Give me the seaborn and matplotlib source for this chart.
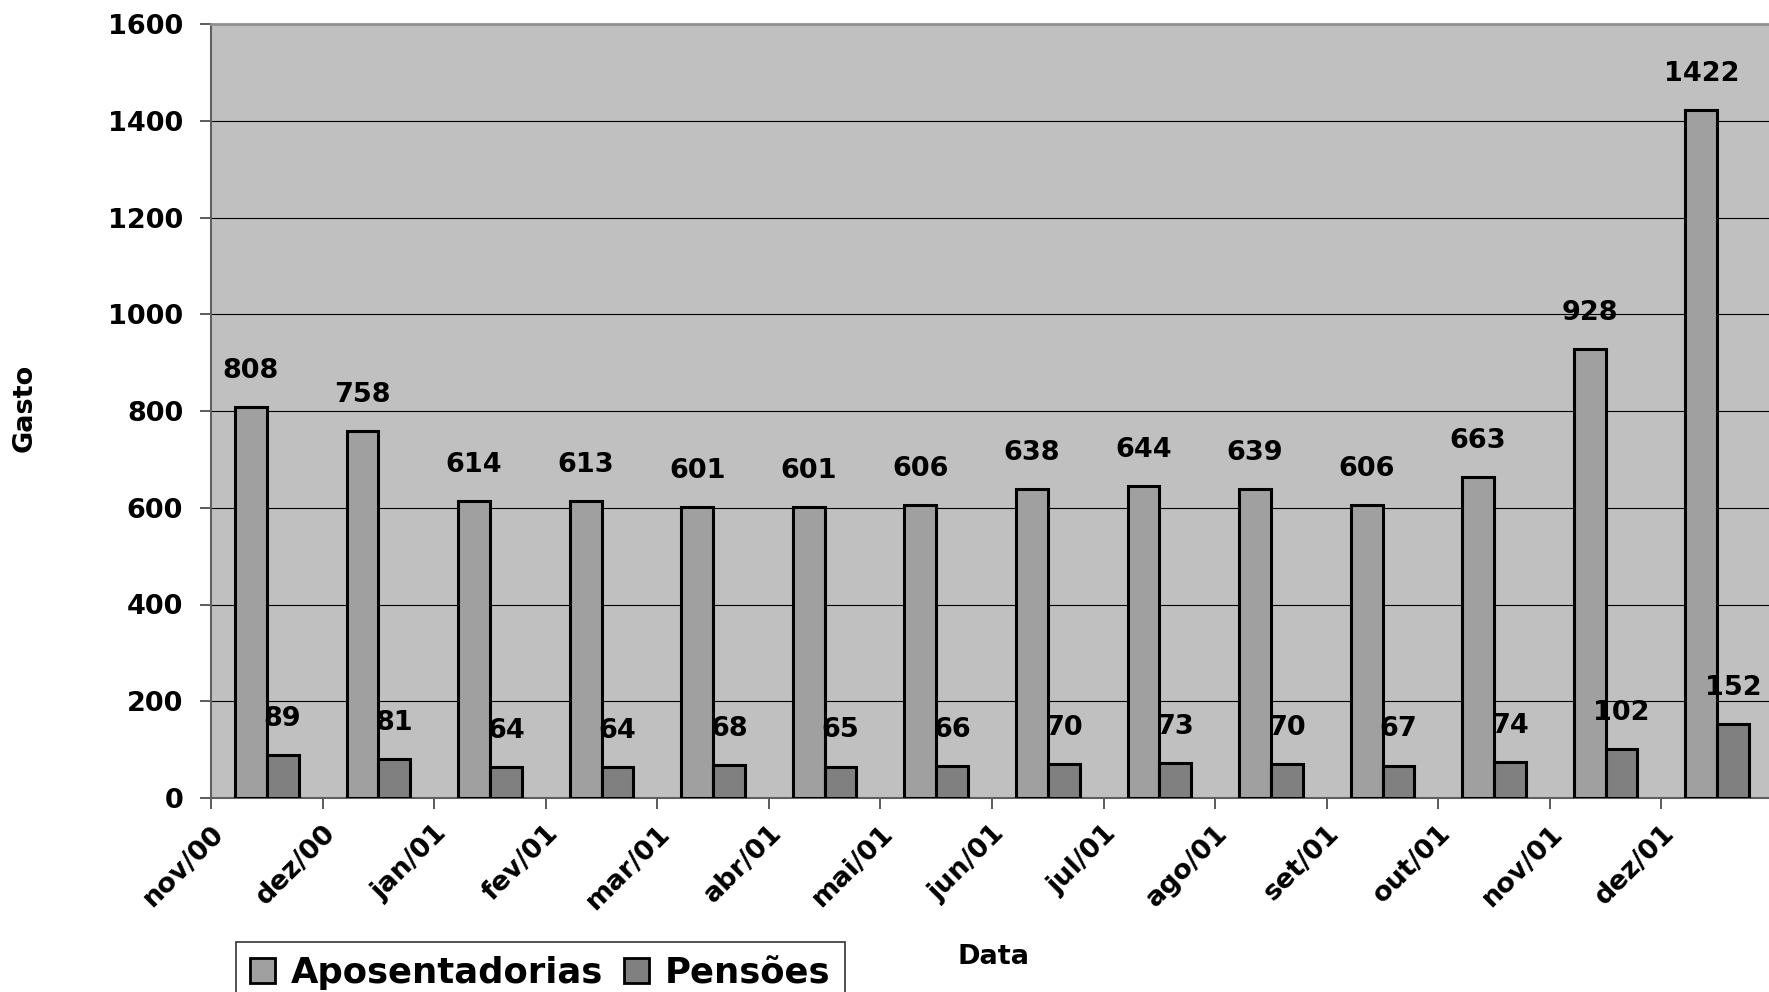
import pandas as pd
import seaborn as sns
import matplotlib.pyplot as plt

# Dados
meses = ['nov/00', 'dez/00', 'jan/01', 'fev/01', 'mar/01', 'abr/01', 'mai/01',
         'jun/01', 'jul/01', 'ago/01', 'set/01', 'out/01', 'nov/01', 'dez/01']
aposentadorias = [808, 758, 614, 613, 601, 601, 606, 638, 644, 639, 606, 663, 928, 1422]
pensoes = [89, 81, 64, 64, 68, 65, 66, 70, 73, 70, 67, 74, 102, 152]
y_ticks = [0, 200, 400, 600, 800, 1000, 1200, 1400, 1600]

df = pd.DataFrame({
    'Data': meses * 2,
    'Gasto': aposentadorias + pensoes,
    'Serie': ['Aposentadorias'] * len(meses) + ['Pensões'] * len(meses),
})

sns.set_style('white')
plt.rcParams['font.family'] = ['DejaVu Sans']
plt.rcParams['font.weight'] = 'bold'
plt.rcParams['text.color'] = 'black'

W, H = 1769, 992
fig = plt.figure(figsize=(W / 100, H / 100), dpi=100)
ax = fig.add_axes([211 / W, (H - 798) / H, 1562 / W, 774 / H])
ax.set_facecolor('#c0c0c0')

sns.barplot(data=df, x='Data', y='Gasto', hue='Serie', order=meses,
            palette=['#a0a0a0', '#808080'], width=0.57, edgecolor='black',
            linewidth=2.2, saturation=1, ax=ax, legend=False, zorder=3)

# Rótulos de dados
for cont in ax.containers:
    for bar in cont:
        h = bar.get_height()
        ax.annotate(f'{h:.0f}', (bar.get_x() + bar.get_width() / 2, h),
                    xytext=(0, 26), textcoords='offset points',
                    ha='center', va='center', fontsize=19.5, fontweight='bold',
                    color='black', zorder=5)

# Eixos
ax.set_xlim(-0.5, len(meses) - 0.5)
ax.set_ylim(0, 1600)
ax.set_yticks(y_ticks)
ax.set_yticklabels([str(v) for v in y_ticks], fontsize=19.5, fontweight='bold')
ax.set_xticks([i - 0.5 for i in range(len(meses))])
ax.set_xticklabels(meses, rotation=45, ha='right', rotation_mode='anchor',
                   fontsize=19.5, fontweight='bold')
ax.tick_params(axis='both', direction='out', length=8, width=1.2, color='#404040',
               labelcolor='black', left=True, bottom=True)
ax.tick_params(axis='x', pad=8)
ax.tick_params(axis='y', pad=12)
ax.yaxis.grid(True, color='black', linewidth=0.8, zorder=1)
ax.set_axisbelow(True)

for s in ['left', 'bottom']:
    ax.spines[s].set_color('#606060')
    ax.spines[s].set_linewidth(1.5)
ax.spines['top'].set_color('#909090')
ax.spines['top'].set_linewidth(2)
ax.spines['right'].set_visible(False)

ax.set_xlabel('')
ax.set_ylabel('')
fig.text(25 / W, 1 - 408 / H, 'Gasto', rotation=90, ha='center', va='center',
         fontsize=19.5, fontweight='bold', color='black')
fig.text(993 / W, 1 - 957 / H, 'Data', ha='center', va='center',
         fontsize=19.5, fontweight='bold', color='black')

# Legenda
handles = [plt.Rectangle((0, 0), 1, 1, facecolor='#a0a0a0', edgecolor='black', linewidth=2),
           plt.Rectangle((0, 0), 1, 1, facecolor='#808080', edgecolor='black', linewidth=2)]
leg = fig.legend(handles, ['Aposentadorias', 'Pensões'], loc='upper left',
                 bbox_to_anchor=(236 / W, 1 - 942 / H), ncol=2, frameon=True,
                 fancybox=False, edgecolor='black', labelcolor='black',
                 prop={'weight': 'bold', 'size': 25.5},
                 handlelength=0.7, handleheight=0.7, handletextpad=0.45,
                 columnspacing=0.6, borderpad=0.4, borderaxespad=0)
leg.get_frame().set_linewidth(1.2)

plt.savefig('out.png', dpi=100)
